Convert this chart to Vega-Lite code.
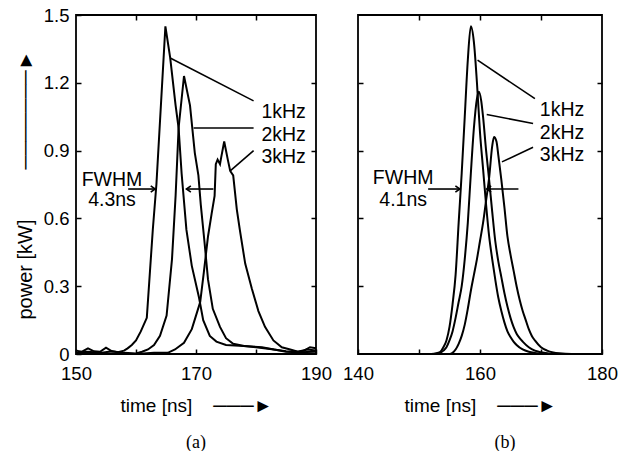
{
  "$schema": "https://vega.github.io/schema/vega-lite/v6.json",
  "background": "white",
  "padding": {"left": 14, "top": 5, "right": 0, "bottom": 0},
  "spacing": 42,
  "bounds": "flush",
  "config": {
    "view": {"stroke": "black", "strokeWidth": 1.8},
    "axis": {
      "domain": false, "grid": false, "tickColor": "black", "tickWidth": 1.5, "tickSize": -5, "labelFlush": false,
      "labelFont": "Liberation Sans", "labelFontSize": 18.5, "labelColor": "black",
      "titleFont": "Liberation Sans", "titleFontSize": 19, "titleFontWeight": "normal", "titleColor": "black"
    },
    "text": {"font": "Liberation Sans", "fontSize": 19.5, "color": "black"}
  },
  "datasets": {
    "a": [
      {"f": "1kHz", "t": 150, "p": 0.015}, {"f": "1kHz", "t": 151, "p": 0.01}, {"f": "1kHz", "t": 152, "p": 0.025},
      {"f": "1kHz", "t": 153, "p": 0.012}, {"f": "1kHz", "t": 154, "p": 0.01}, {"f": "1kHz", "t": 155, "p": 0.028},
      {"f": "1kHz", "t": 156, "p": 0.012}, {"f": "1kHz", "t": 157, "p": 0.008}, {"f": "1kHz", "t": 158, "p": 0.015},
      {"f": "1kHz", "t": 158.6, "p": 0.025}, {"f": "1kHz", "t": 159.3, "p": 0.04}, {"f": "1kHz", "t": 160, "p": 0.06},
      {"f": "1kHz", "t": 160.8, "p": 0.1}, {"f": "1kHz", "t": 161.8, "p": 0.16}, {"f": "1kHz", "t": 162.8, "p": 0.55},
      {"f": "1kHz", "t": 163.4, "p": 0.75}, {"f": "1kHz", "t": 164.9, "p": 1.45}, {"f": "1kHz", "t": 165.7, "p": 1.31},
      {"f": "1kHz", "t": 166.6, "p": 1.1}, {"f": "1kHz", "t": 167.1, "p": 1.0}, {"f": "1kHz", "t": 167.6, "p": 0.8},
      {"f": "1kHz", "t": 168.4, "p": 0.55}, {"f": "1kHz", "t": 169.3, "p": 0.39}, {"f": "1kHz", "t": 170.5, "p": 0.25},
      {"f": "1kHz", "t": 171.2, "p": 0.15}, {"f": "1kHz", "t": 172.3, "p": 0.08}, {"f": "1kHz", "t": 173.4, "p": 0.055},
      {"f": "1kHz", "t": 175, "p": 0.04}, {"f": "1kHz", "t": 178, "p": 0.035}, {"f": "1kHz", "t": 181, "p": 0.03},
      {"f": "1kHz", "t": 183, "p": 0.02}, {"f": "1kHz", "t": 185, "p": 0.012}, {"f": "1kHz", "t": 187, "p": 0.01},
      {"f": "1kHz", "t": 188.5, "p": 0.02}, {"f": "1kHz", "t": 190, "p": 0.015},
      {"f": "2kHz", "t": 150, "p": 0.005}, {"f": "2kHz", "t": 152, "p": 0.01}, {"f": "2kHz", "t": 154, "p": 0.005},
      {"f": "2kHz", "t": 156, "p": 0.012}, {"f": "2kHz", "t": 158, "p": 0.005}, {"f": "2kHz", "t": 160, "p": 0.002},
      {"f": "2kHz", "t": 161, "p": 0.01}, {"f": "2kHz", "t": 162, "p": 0.02}, {"f": "2kHz", "t": 163, "p": 0.04},
      {"f": "2kHz", "t": 164, "p": 0.08}, {"f": "2kHz", "t": 165.1, "p": 0.17}, {"f": "2kHz", "t": 166, "p": 0.42},
      {"f": "2kHz", "t": 166.6, "p": 0.7}, {"f": "2kHz", "t": 167.1, "p": 1.0}, {"f": "2kHz", "t": 168, "p": 1.23},
      {"f": "2kHz", "t": 169, "p": 1.1}, {"f": "2kHz", "t": 169.8, "p": 0.89}, {"f": "2kHz", "t": 170.4, "p": 0.79},
      {"f": "2kHz", "t": 170.8, "p": 0.66}, {"f": "2kHz", "t": 171.4, "p": 0.5}, {"f": "2kHz", "t": 172, "p": 0.33},
      {"f": "2kHz", "t": 172.8, "p": 0.2}, {"f": "2kHz", "t": 174, "p": 0.12}, {"f": "2kHz", "t": 175, "p": 0.07},
      {"f": "2kHz", "t": 176.2, "p": 0.045}, {"f": "2kHz", "t": 178, "p": 0.035}, {"f": "2kHz", "t": 180, "p": 0.03},
      {"f": "2kHz", "t": 183, "p": 0.02}, {"f": "2kHz", "t": 185, "p": 0.01}, {"f": "2kHz", "t": 187, "p": 0.008},
      {"f": "2kHz", "t": 190, "p": 0.01},
      {"f": "3kHz", "t": 150, "p": 0.0}, {"f": "3kHz", "t": 155, "p": 0.002}, {"f": "3kHz", "t": 160, "p": 0.0},
      {"f": "3kHz", "t": 163, "p": 0.005}, {"f": "3kHz", "t": 165.3, "p": 0.005}, {"f": "3kHz", "t": 166.5, "p": 0.02},
      {"f": "3kHz", "t": 168, "p": 0.05}, {"f": "3kHz", "t": 169.3, "p": 0.11}, {"f": "3kHz", "t": 170, "p": 0.17},
      {"f": "3kHz", "t": 170.7, "p": 0.23}, {"f": "3kHz", "t": 171.3, "p": 0.36}, {"f": "3kHz", "t": 172, "p": 0.52},
      {"f": "3kHz", "t": 172.6, "p": 0.62}, {"f": "3kHz", "t": 173.1, "p": 0.7}, {"f": "3kHz", "t": 173.3, "p": 0.84},
      {"f": "3kHz", "t": 173.6, "p": 0.86}, {"f": "3kHz", "t": 174, "p": 0.84}, {"f": "3kHz", "t": 174.2, "p": 0.87},
      {"f": "3kHz", "t": 174.7, "p": 0.94}, {"f": "3kHz", "t": 175.3, "p": 0.86}, {"f": "3kHz", "t": 175.7, "p": 0.81},
      {"f": "3kHz", "t": 176.2, "p": 0.79}, {"f": "3kHz", "t": 176.8, "p": 0.64}, {"f": "3kHz", "t": 177.3, "p": 0.55},
      {"f": "3kHz", "t": 178.2, "p": 0.4}, {"f": "3kHz", "t": 179.3, "p": 0.29}, {"f": "3kHz", "t": 180.4, "p": 0.19},
      {"f": "3kHz", "t": 181.5, "p": 0.12}, {"f": "3kHz", "t": 182.9, "p": 0.06}, {"f": "3kHz", "t": 184.3, "p": 0.03},
      {"f": "3kHz", "t": 185.7, "p": 0.02}, {"f": "3kHz", "t": 187, "p": 0.01}, {"f": "3kHz", "t": 188, "p": 0.015},
      {"f": "3kHz", "t": 189, "p": 0.03}, {"f": "3kHz", "t": 190, "p": 0.025}
    ],
    "b": [
      {"f": "1kHz", "t": 140, "p": 0}, {"f": "1kHz", "t": 152, "p": 0}, {"f": "1kHz", "t": 153, "p": 0.005},
      {"f": "1kHz", "t": 153.5, "p": 0.01}, {"f": "1kHz", "t": 154, "p": 0.03}, {"f": "1kHz", "t": 154.5, "p": 0.06},
      {"f": "1kHz", "t": 155, "p": 0.12}, {"f": "1kHz", "t": 155.5, "p": 0.22}, {"f": "1kHz", "t": 156, "p": 0.35},
      {"f": "1kHz", "t": 156.5, "p": 0.58}, {"f": "1kHz", "t": 157, "p": 0.8}, {"f": "1kHz", "t": 157.5, "p": 1.05},
      {"f": "1kHz", "t": 158, "p": 1.3}, {"f": "1kHz", "t": 158.5, "p": 1.45}, {"f": "1kHz", "t": 159, "p": 1.38},
      {"f": "1kHz", "t": 159.5, "p": 1.2}, {"f": "1kHz", "t": 160, "p": 0.98}, {"f": "1kHz", "t": 160.5, "p": 0.82},
      {"f": "1kHz", "t": 161, "p": 0.66}, {"f": "1kHz", "t": 161.5, "p": 0.52}, {"f": "1kHz", "t": 162, "p": 0.42},
      {"f": "1kHz", "t": 162.5, "p": 0.33}, {"f": "1kHz", "t": 163, "p": 0.25}, {"f": "1kHz", "t": 163.5, "p": 0.19},
      {"f": "1kHz", "t": 164, "p": 0.14}, {"f": "1kHz", "t": 164.5, "p": 0.1}, {"f": "1kHz", "t": 165, "p": 0.075},
      {"f": "1kHz", "t": 165.5, "p": 0.055}, {"f": "1kHz", "t": 166, "p": 0.04}, {"f": "1kHz", "t": 167, "p": 0.02},
      {"f": "1kHz", "t": 168, "p": 0.01}, {"f": "1kHz", "t": 169, "p": 0.005}, {"f": "1kHz", "t": 170, "p": 0.002},
      {"f": "1kHz", "t": 172, "p": 0}, {"f": "1kHz", "t": 180, "p": 0},
      {"f": "2kHz", "t": 140, "p": 0}, {"f": "2kHz", "t": 153, "p": 0}, {"f": "2kHz", "t": 153.5, "p": 0.005},
      {"f": "2kHz", "t": 154, "p": 0.015}, {"f": "2kHz", "t": 154.5, "p": 0.03}, {"f": "2kHz", "t": 155, "p": 0.06},
      {"f": "2kHz", "t": 155.5, "p": 0.1}, {"f": "2kHz", "t": 156, "p": 0.16}, {"f": "2kHz", "t": 156.5, "p": 0.23},
      {"f": "2kHz", "t": 157, "p": 0.3}, {"f": "2kHz", "t": 157.5, "p": 0.42}, {"f": "2kHz", "t": 158, "p": 0.58},
      {"f": "2kHz", "t": 158.5, "p": 0.8}, {"f": "2kHz", "t": 159, "p": 1.0}, {"f": "2kHz", "t": 159.5, "p": 1.13},
      {"f": "2kHz", "t": 159.8, "p": 1.16}, {"f": "2kHz", "t": 160.2, "p": 1.12}, {"f": "2kHz", "t": 160.5, "p": 1.05},
      {"f": "2kHz", "t": 161, "p": 0.9}, {"f": "2kHz", "t": 161.5, "p": 0.77}, {"f": "2kHz", "t": 162, "p": 0.63},
      {"f": "2kHz", "t": 162.5, "p": 0.5}, {"f": "2kHz", "t": 163, "p": 0.41}, {"f": "2kHz", "t": 163.5, "p": 0.34},
      {"f": "2kHz", "t": 164, "p": 0.27}, {"f": "2kHz", "t": 164.5, "p": 0.21}, {"f": "2kHz", "t": 165, "p": 0.16},
      {"f": "2kHz", "t": 165.5, "p": 0.12}, {"f": "2kHz", "t": 166, "p": 0.09}, {"f": "2kHz", "t": 166.5, "p": 0.07},
      {"f": "2kHz", "t": 167, "p": 0.055}, {"f": "2kHz", "t": 168, "p": 0.03}, {"f": "2kHz", "t": 169, "p": 0.015},
      {"f": "2kHz", "t": 170, "p": 0.008}, {"f": "2kHz", "t": 171, "p": 0.003}, {"f": "2kHz", "t": 172, "p": 0},
      {"f": "2kHz", "t": 180, "p": 0},
      {"f": "3kHz", "t": 140, "p": 0}, {"f": "3kHz", "t": 155, "p": 0}, {"f": "3kHz", "t": 155.5, "p": 0.005},
      {"f": "3kHz", "t": 156, "p": 0.02}, {"f": "3kHz", "t": 156.5, "p": 0.045}, {"f": "3kHz", "t": 157, "p": 0.08},
      {"f": "3kHz", "t": 157.5, "p": 0.13}, {"f": "3kHz", "t": 158, "p": 0.2}, {"f": "3kHz", "t": 158.5, "p": 0.28},
      {"f": "3kHz", "t": 159, "p": 0.35}, {"f": "3kHz", "t": 159.5, "p": 0.42}, {"f": "3kHz", "t": 160, "p": 0.5},
      {"f": "3kHz", "t": 160.5, "p": 0.58}, {"f": "3kHz", "t": 161, "p": 0.68}, {"f": "3kHz", "t": 161.5, "p": 0.78},
      {"f": "3kHz", "t": 162, "p": 0.92}, {"f": "3kHz", "t": 162.3, "p": 0.96}, {"f": "3kHz", "t": 162.7, "p": 0.94},
      {"f": "3kHz", "t": 163, "p": 0.88}, {"f": "3kHz", "t": 163.5, "p": 0.77}, {"f": "3kHz", "t": 164, "p": 0.65},
      {"f": "3kHz", "t": 164.5, "p": 0.52}, {"f": "3kHz", "t": 165, "p": 0.44}, {"f": "3kHz", "t": 165.5, "p": 0.37},
      {"f": "3kHz", "t": 166, "p": 0.3}, {"f": "3kHz", "t": 166.5, "p": 0.24}, {"f": "3kHz", "t": 167, "p": 0.19},
      {"f": "3kHz", "t": 167.5, "p": 0.15}, {"f": "3kHz", "t": 168, "p": 0.11}, {"f": "3kHz", "t": 168.5, "p": 0.08},
      {"f": "3kHz", "t": 169, "p": 0.06}, {"f": "3kHz", "t": 170, "p": 0.03}, {"f": "3kHz", "t": 171, "p": 0.015},
      {"f": "3kHz", "t": 172, "p": 0.007}, {"f": "3kHz", "t": 173, "p": 0.003}, {"f": "3kHz", "t": 175, "p": 0},
      {"f": "3kHz", "t": 180, "p": 0}
    ],
    "ka": [
      {"t": 180.9, "p": 1.07, "text": "1kHz"}, {"t": 180.9, "p": 0.97, "text": "2kHz"}, {"t": 180.9, "p": 0.87, "text": "3kHz"}
    ],
    "ca": [
      {"t": 156, "p": 0.77, "text": "FWHM"}, {"t": 156, "p": 0.68, "text": "4.3ns"}
    ],
    "sa": [
      {"t": 165.7, "p": 1.31, "t2": 179.6, "p2": 1.12},
      {"t": 169.6, "p": 1.0, "t2": 179.6, "p2": 1.0},
      {"t": 175.7, "p": 0.81, "t2": 179.6, "p2": 0.9},
      {"t": 158.7, "p": 0.73, "t2": 163.2, "p2": 0.73},
      {"t": 172.9, "p": 0.73, "t2": 168.4, "p2": 0.73}
    ],
    "ha": [
      {"t": 163.2, "p": 0.73, "dir": "right"}, {"t": 168.4, "p": 0.73, "dir": "left"}
    ],
    "kb": [
      {"t": 169.8, "p": 1.08, "text": "1kHz"}, {"t": 169.8, "p": 0.98, "text": "2kHz"}, {"t": 169.8, "p": 0.88, "text": "3kHz"}
    ],
    "cb": [
      {"t": 147.4, "p": 0.78, "text": "FWHM"}, {"t": 147.4, "p": 0.68, "text": "4.1ns"}
    ],
    "sb": [
      {"t": 159.6, "p": 1.3, "t2": 169.0, "p2": 1.13},
      {"t": 161.1, "p": 1.06, "t2": 168.7, "p2": 1.02},
      {"t": 163.6, "p": 0.85, "t2": 168.7, "p2": 0.915},
      {"t": 151.5, "p": 0.73, "t2": 156.7, "p2": 0.73},
      {"t": 166.3, "p": 0.73, "t2": 161.1, "p2": 0.73}
    ],
    "hb": [
      {"t": 156.7, "p": 0.73, "dir": "right"}, {"t": 161.1, "p": 0.73, "dir": "left"}
    ]
  },
  "hconcat": [
    {
      "width": 240,
      "height": 339,
      "title": {"text": "(a)", "orient": "bottom", "font": "Liberation Serif", "fontSize": 18, "fontWeight": "normal", "color": "black", "offset": 18},
      "resolve": {"axis": {"x": "independent", "y": "independent"}},
      "layer": [
        {
          "data": {"name": "a"},
          "mark": {"type": "line", "color": "black", "strokeWidth": 2},
          "encoding": {
            "x": {"field": "t", "type": "quantitative", "scale": {"domain": [150, 190], "nice": false, "zero": false},
                  "axis": {"orient": "bottom", "values": [150, 160, 170, 180, 190], "labelExpr": "datum.value % 20 == 10 ? datum.label : ''", "labelPadding": 15, "title": "time [ns]\u00a0\u00a0\u00a0\u00a0───►", "titlePadding": 14}},
            "y": {"field": "p", "type": "quantitative", "scale": {"domain": [0, 1.5], "nice": false},
                  "axis": {"orient": "left", "values": [0, 0.3, 0.6, 0.9, 1.2, 1.5], "labelExpr": "datum.value == 0 ? '0' : format(datum.value, '.1f')", "labelPadding": 12, "title": "power [kW]\u00a0\u00a0\u00a0\u00a0\u00a0\u00a0\u00a0\u00a0\u00a0───────►", "titleFontSize": 20, "titlePadding": 8}},
            "detail": {"field": "f"}
          }
        },
        {
          "data": {"name": "ka"},
          "mark": {"type": "text", "align": "left", "baseline": "middle"},
          "encoding": {
            "x": {"field": "t", "type": "quantitative", "axis": {"orient": "top", "values": [160, 170, 180], "labels": false, "title": null}},
            "y": {"field": "p", "type": "quantitative", "axis": {"orient": "right", "values": [0.3, 0.6, 0.9, 1.2], "labels": false, "title": null}},
            "text": {"field": "text"}
          }
        },
        {
          "data": {"name": "ca"},
          "mark": {"type": "text", "align": "center", "baseline": "middle"},
          "encoding": {
            "x": {"field": "t", "type": "quantitative", "axis": null},
            "y": {"field": "p", "type": "quantitative", "axis": null},
            "text": {"field": "text"}
          }
        },
        {
          "data": {"name": "sa"},
          "mark": {"type": "rule", "color": "black", "strokeWidth": 1.6},
          "encoding": {
            "x": {"field": "t", "type": "quantitative", "axis": null},
            "y": {"field": "p", "type": "quantitative", "axis": null},
            "x2": {"field": "t2"},
            "y2": {"field": "p2"}
          }
        },
        {
          "data": {"name": "ha"},
          "transform": [{"filter": "datum.dir == 'right'"}],
          "mark": {"type": "point", "shape": "M-1,-0.7L0,0L-1,0.7", "filled": false, "stroke": "black", "strokeWidth": 1.6, "size": 80, "opacity": 1},
          "encoding": {
            "x": {"field": "t", "type": "quantitative", "axis": null},
            "y": {"field": "p", "type": "quantitative", "axis": null}
          }
        },
        {
          "data": {"name": "ha"},
          "transform": [{"filter": "datum.dir == 'left'"}],
          "mark": {"type": "point", "shape": "M1,-0.7L0,0L1,0.7", "filled": false, "stroke": "black", "strokeWidth": 1.6, "size": 80, "opacity": 1},
          "encoding": {
            "x": {"field": "t", "type": "quantitative", "axis": null},
            "y": {"field": "p", "type": "quantitative", "axis": null}
          }
        }
      ]
    },
    {
      "width": 244,
      "height": 339,
      "title": {"text": "(b)", "orient": "bottom", "font": "Liberation Serif", "fontSize": 18, "fontWeight": "normal", "color": "black", "offset": 18, "dx": 25},
      "resolve": {"axis": {"x": "independent", "y": "independent"}},
      "layer": [
        {
          "data": {"name": "b"},
          "mark": {"type": "line", "color": "black", "strokeWidth": 2, "interpolate": "monotone"},
          "encoding": {
            "x": {"field": "t", "type": "quantitative", "scale": {"domain": [140, 180], "nice": false, "zero": false},
                  "axis": {"orient": "bottom", "values": [140, 150, 160, 170, 180], "labelExpr": "datum.value % 20 == 0 ? datum.label : ''", "labelPadding": 15, "title": "time [ns]\u00a0\u00a0\u00a0\u00a0───►", "titlePadding": 14}},
            "y": {"field": "p", "type": "quantitative", "scale": {"domain": [0, 1.5], "nice": false},
                  "axis": {"orient": "left", "values": [0.3, 0.6, 0.9, 1.2], "labels": false, "title": null}},
            "detail": {"field": "f"}
          }
        },
        {
          "data": {"name": "kb"},
          "mark": {"type": "text", "align": "left", "baseline": "middle"},
          "encoding": {
            "x": {"field": "t", "type": "quantitative", "axis": {"orient": "top", "values": [150, 160, 170], "labels": false, "title": null}},
            "y": {"field": "p", "type": "quantitative", "axis": {"orient": "right", "values": [0.3, 0.6, 0.9, 1.2], "labels": false, "title": null}},
            "text": {"field": "text"}
          }
        },
        {
          "data": {"name": "cb"},
          "mark": {"type": "text", "align": "center", "baseline": "middle"},
          "encoding": {
            "x": {"field": "t", "type": "quantitative", "axis": null},
            "y": {"field": "p", "type": "quantitative", "axis": null},
            "text": {"field": "text"}
          }
        },
        {
          "data": {"name": "sb"},
          "mark": {"type": "rule", "color": "black", "strokeWidth": 1.6},
          "encoding": {
            "x": {"field": "t", "type": "quantitative", "axis": null},
            "y": {"field": "p", "type": "quantitative", "axis": null},
            "x2": {"field": "t2"},
            "y2": {"field": "p2"}
          }
        },
        {
          "data": {"name": "hb"},
          "transform": [{"filter": "datum.dir == 'right'"}],
          "mark": {"type": "point", "shape": "M-1,-0.7L0,0L-1,0.7", "filled": false, "stroke": "black", "strokeWidth": 1.6, "size": 80, "opacity": 1},
          "encoding": {
            "x": {"field": "t", "type": "quantitative", "axis": null},
            "y": {"field": "p", "type": "quantitative", "axis": null}
          }
        },
        {
          "data": {"name": "hb"},
          "transform": [{"filter": "datum.dir == 'left'"}],
          "mark": {"type": "point", "shape": "M1,-0.7L0,0L1,0.7", "filled": false, "stroke": "black", "strokeWidth": 1.6, "size": 80, "opacity": 1},
          "encoding": {
            "x": {"field": "t", "type": "quantitative", "axis": null},
            "y": {"field": "p", "type": "quantitative", "axis": null}
          }
        }
      ]
    }
  ]
}
